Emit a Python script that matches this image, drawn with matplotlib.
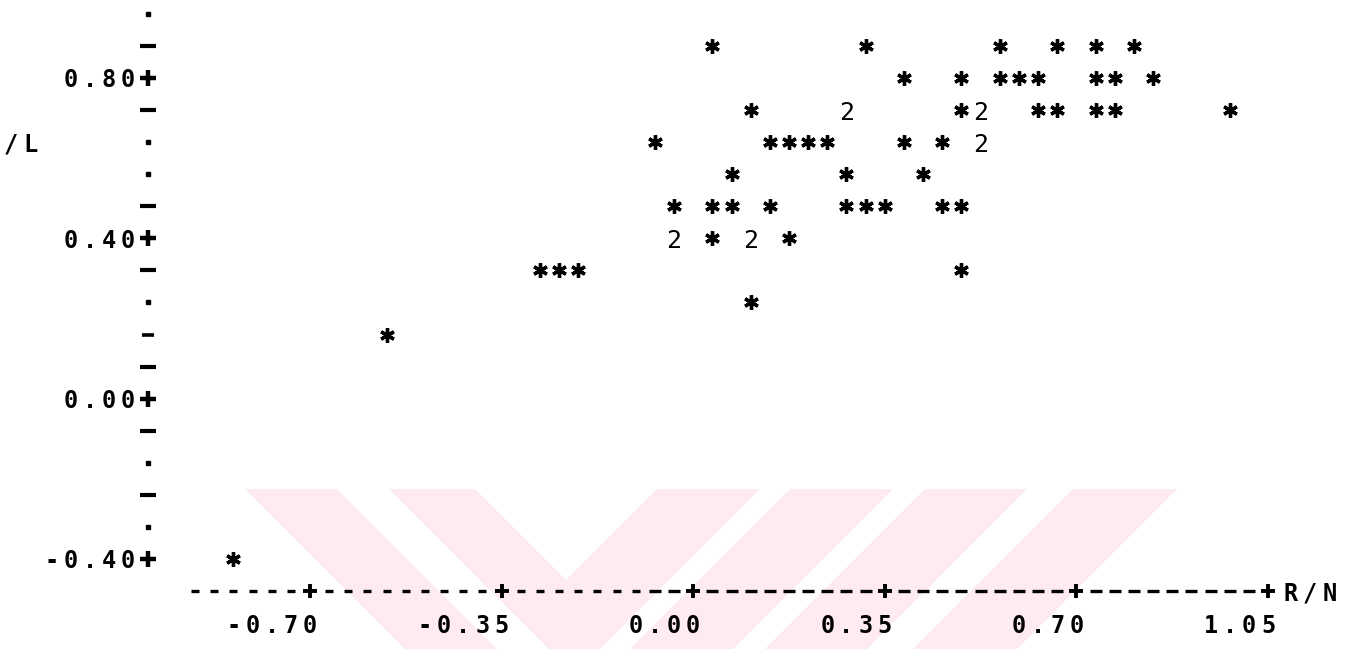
import numpy as np
import matplotlib.pyplot as plt
from matplotlib.patches import Polygon

# values (x = R/N, y = ../L)
row_088_x = [0.035, 0.315, 0.560, 0.665, 0.735, 0.805]
row_080_x = [0.385, 0.490, 0.560, 0.595, 0.630, 0.735, 0.770, 0.840]
row_072_x = [0.105, 0.280, 0.490, 0.525, 0.630, 0.665, 0.735, 0.770, 0.980]
row_072_n = [1, 2, 1, 2, 1, 1, 1, 1, 1]
row_064_x = [-0.070, 0.140, 0.175, 0.210, 0.245, 0.385, 0.455, 0.525]
row_064_n = [1, 1, 1, 1, 1, 1, 1, 2]
row_056_x = [0.070, 0.280, 0.420]
row_048_x = [-0.035, 0.035, 0.070, 0.140, 0.280, 0.315, 0.350, 0.455, 0.490]
row_040_x = [-0.035, 0.035, 0.105, 0.175]
row_040_n = [2, 1, 2, 1]
row_032_x = [-0.280, -0.245, -0.210, 0.490]
row_024_x = [0.105]
row_016_x = [-0.560]
row_m040_x = [-0.840]

x_ticks = [-0.70, -0.35, 0.00, 0.35, 0.70, 1.05]
x_ticklabels = ['-0.70', '-0.35', '0.00', '0.35', '0.70', '1.05']
y_ticks = [-0.40, 0.00, 0.40, 0.80]
y_ticklabels = ['-0.40', '0.00', '0.40', '0.80']

rows = [
    (0.88, row_088_x, None),
    (0.80, row_080_x, None),
    (0.72, row_072_x, row_072_n),
    (0.64, row_064_x, row_064_n),
    (0.56, row_056_x, None),
    (0.48, row_048_x, None),
    (0.40, row_040_x, row_040_n),
    (0.32, row_032_x, None),
    (0.24, row_024_x, None),
    (0.16, row_016_x, None),
    (-0.40, row_m040_x, None),
]
xs, ys, ns = [], [], []
for yv, xr, nr in rows:
    if nr is None:
        nr = [1] * len(xr)
    xs += xr
    ys += [yv] * len(xr)
    ns += nr
xs, ys, ns = np.array(xs), np.array(ys), np.array(ns)

W, H = 1368, 649
fig = plt.figure(figsize=(W / 100, H / 100), dpi=100)
ax = fig.add_axes([0, 0, 1, 1])
ax.set_xlim(-1.2663, 1.2327)
ax.set_ylim(-0.6246, 0.9946)
ax.axis('off')

CW = 0.035   # width of one printer column
ROW = 0.08   # height of one printer line
FONT = 'DejaVu Sans Mono'


def col(k):
    return -0.70 + k * CW


def put_str(k, y, s, **kw):
    # one character per printer column
    for i, ch in enumerate(s):
        ax.text(col(k + i), y, ch, ha='center', va='center_baseline',
                family=FONT, fontsize=17, color='black', zorder=3, **kw)


# pale watermark in the lower part of the scan (pixel geometry)
pink = '#fdebef'
bands = [
    [(245, 489), (337, 489), (497, 649), (405, 649)],
    [(389, 489), (475, 489), (566, 580), (657, 489), (760, 489), (600, 649), (549, 649)],
    [(790, 489), (893, 489), (733, 649), (630, 649)],
    [(925, 489), (1027, 489), (867, 649), (765, 649)],
    [(1073, 489), (1177, 489), (1017, 649), (913, 649)],
]
for b in bands:
    pts = [(px / W, 1 - py / H) for px, py in b]
    ax.add_patch(Polygon(pts, closed=True, transform=ax.transAxes,
                         facecolor=pink, edgecolor='none', zorder=0))

# points: single observations as asterisks, repeats as the count digit
single = ns == 1
ax.plot(xs[single], ys[single], linestyle='none', marker=(6, 2, 0),
        markersize=10.5, markeredgewidth=2.4, color='black', zorder=3)
for xv, yv, n in zip(xs[~single], ys[~single], ns[~single]):
    ax.text(xv, yv, str(n), ha='center', va='center_baseline',
            family=FONT, fontsize=18, color='black', zorder=3)

# vertical axis made of printer characters (some of them printed faintly)
yaxis_x = col(-8.45)
faint = {0.96, 0.64, 0.56, 0.24, -0.16, -0.32}
for yv in np.round(np.arange(-0.40, 0.97, ROW), 2):
    if any(abs(yv - t) < 1e-6 for t in y_ticks):
        ax.plot(yaxis_x, yv, marker='+', markersize=12, markeredgewidth=3.2,
                color='black')
    elif yv in faint:
        ax.plot(yaxis_x, yv, marker='s', markersize=3.5, color='black')
    elif yv == 0.16:
        ax.plot(yaxis_x, yv, marker='_', markersize=8, markeredgewidth=2.6,
                color='black')
    else:
        ax.plot(yaxis_x, yv, marker='_', markersize=12, markeredgewidth=3,
                color='black')
for t, lab in zip(y_ticks, y_ticklabels):
    put_str(-9.5 - (len(lab) - 1), t, lab, weight='bold')
put_str(-15.6, 0.64, '/L', weight='bold')

# horizontal axis (left half printed faintly)
axis_y = -0.40 - ROW
tick_cols = [round((t + 0.70) / CW) for t in x_ticks]
for k in range(-6, 50):
    if k in tick_cols:
        continue
    if k < 18:
        ax.plot(col(k), axis_y, marker='_', markersize=6,
                markeredgewidth=2.4, color='black')
    else:
        ax.plot(col(k), axis_y, marker='_', markersize=8.5,
                markeredgewidth=2.4, color='black')
for k in tick_cols:
    ax.plot(col(k), axis_y, marker='+', markersize=10, markeredgewidth=2.8,
            color='black')
put_str(51.2, axis_y, 'R/N', weight='bold')
for k, lab in zip(tick_cols, x_ticklabels):
    put_str(k - (len(lab) - 1), axis_y - ROW, lab, weight='bold')

fig.savefig('out.png', dpi=100, facecolor='white')
